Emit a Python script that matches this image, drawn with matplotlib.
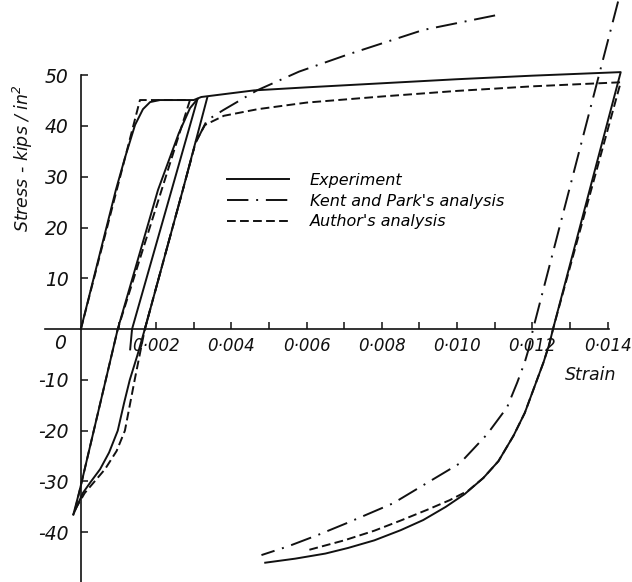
import matplotlib
matplotlib.use('Agg')
import matplotlib.pyplot as plt
from matplotlib.lines import Line2D

plt.rcParams['font.family'] = 'DejaVu Sans'
plt.rcParams['font.style'] = 'italic'
plt.rcParams['mathtext.default'] = 'it'

# ---- experiment (solid) ----
exp_main_strain = [0, 0.00093, 0.00117, 0.00144, 0.00165, 0.00184, 0.0021, 0.0030, 0.0032,
                   0.0046, 0.006, 0.008, 0.010, 0.012, 0.01435,
                   0.01255, 0.01245, 0.0123, 0.0121, 0.0118, 0.0115, 0.0111, 0.0107, 0.0102,
                   0.0097, 0.0091, 0.0085, 0.0078, 0.0071, 0.0065, 0.0057, 0.0049]
exp_main_stress = [0, 27.4, 33.7, 40.2, 43.3, 44.7, 45.1, 45.1, 45.7,
                   47.0, 47.6, 48.4, 49.2, 49.9, 50.6,
                   0, -3, -6.5, -10.5, -16.5, -21, -26, -29.3, -32.5,
                   -35, -37.6, -39.6, -41.6, -43.1, -44.2, -45.2, -46]

exp_unload1_strain = [0.0031, 0.00136, 0.00131]
exp_unload1_stress = [45.3, 0, -4]

exp_reload1_strain = [-0.0002, -0.00003, 0.00098, 0.00205, 0.0026, 0.0029, 0.0031]
exp_reload1_stress = [-36.5, -31.7, 0, 27.4, 38.5, 43.5, 45.3]

exp_loop2_strain = [0.00336, 0.00271, 0.0017, 0.0015, 0.0013, 0.00115, 0.00098, 0.00075,
                    0.00051, 0.00025, 0.00005, -0.0002]
exp_loop2_stress = [45.6, 27.4, 0, -5.2, -10, -14.5, -20, -24.3, -27.6, -30.2, -32.3, -36.5]

# ---- author's analysis (dashed) ----
au_first_strain = [0, 0.00157, 0.0029, 0.00098, -0.00003, -0.00015]
au_first_stress = [0, 45.1, 45.1, 0, -31.7, -35.5]

au_second_strain = [-0.00015, 0.0001, 0.00064, 0.00095, 0.00117, 0.00143, 0.0017, 0.00271, 0.00306,
                    0.0033, 0.0038, 0.0047, 0.006, 0.008, 0.010, 0.012, 0.01435,
                    0.01255, 0.01245, 0.0123, 0.0121, 0.0118, 0.0115, 0.0111, 0.0107, 0.0103,
                    0.0098, 0.0092, 0.0085, 0.0078, 0.0070, 0.0060]
au_second_stress = [-35.5, -32.3, -27.6, -24, -20, -10, 0, 27.4, 37,
                    40.2, 42, 43.3, 44.6, 45.8, 46.9, 47.8, 48.6,
                    0, -3, -6.5, -10.5, -16.5, -21, -26, -29.3, -31.8,
                    -33.7, -35.6, -37.7, -39.7, -41.6, -43.6]

# ---- Kent and Park's analysis (dash-dot) ----
kp_up_strain = [0.0017, 0.00271, 0.00304, 0.00335, 0.00378, 0.00468, 0.0058, 0.00707, 0.0091, 0.0111]
kp_up_stress = [0, 27.4, 36.5, 41.1, 43.1, 47.0, 50.7, 54.0, 58.9, 61.9]

kp_down_strain = [0.01428, 0.01202, 0.0119, 0.0118, 0.0116, 0.01133, 0.0108, 0.01008, 0.0092,
                  0.0083, 0.00707, 0.00628, 0.0055, 0.0048]
kp_down_stress = [64.5, 0, -4, -6.5, -10.5, -15.4, -20.7, -26.4, -30.3,
                  -34.3, -38.2, -40.6, -42.8, -44.5]

x_ticks = [0.001 * i for i in range(1, 15)]
x_labels = ['0·%03d' % i if i % 2 == 0 else '' for i in range(1, 15)]
y_ticks = [-40, -30, -20, -10, 10, 20, 30, 40, 50]
y_labels = [str(v) for v in y_ticks]

ink = '#111111'
lw = 1.4
solid = dict(color=ink, lw=lw, solid_joinstyle='round')
dashed = dict(color=ink, lw=lw, dashes=(4.5, 2.2))
dashdot = dict(color=ink, lw=lw, dashes=(11, 4, 1, 4))

fig = plt.figure(figsize=(6.32, 5.82), dpi=100)
ax = fig.add_axes([0, 0, 1, 1])
ax.set_xlim(-0.00215, 0.01465)
ax.set_ylim(-49.8, 64.8)

ax.plot(exp_main_strain, exp_main_stress, **solid)
ax.plot(exp_unload1_strain, exp_unload1_stress, **solid)
ax.plot(exp_reload1_strain, exp_reload1_stress, **solid)
ax.plot(exp_loop2_strain, exp_loop2_stress, **solid)

ax.plot(au_first_strain, au_first_stress, **dashed)
ax.plot(au_second_strain, au_second_stress, **dashed)

ax.plot(kp_up_strain, kp_up_stress, **dashdot)
ax.plot(kp_down_strain, kp_down_stress, **dashdot)

# axes through the origin
for s in ['top', 'right']:
    ax.spines[s].set_visible(False)
ax.spines['left'].set_position(('data', 0))
ax.spines['bottom'].set_position(('data', 0))
ax.spines['left'].set_bounds(-50, 50)
ax.spines['bottom'].set_bounds(-0.00095, 0.01405)
ax.spines['left'].set_linewidth(1.2)
ax.spines['bottom'].set_linewidth(1.2)
ax.spines['left'].set_color(ink)
ax.spines['bottom'].set_color(ink)

ax.set_xticks(x_ticks, x_labels, fontsize=12)
ax.set_yticks(y_ticks, y_labels, fontsize=13.5)
ax.tick_params(axis='x', direction='in', length=5, width=1.1, pad=6, colors=ink)
ax.tick_params(axis='y', direction='in', length=5, width=1.1, pad=9, colors=ink)

ax.text(-0.00056, -2.8, '0', fontsize=13.5, ha='center', va='center', color=ink)
ax.text(0.01354, -9.1, 'Strain', fontsize=12.5, ha='center', va='center', color=ink)
ax.text(-0.00154, 33.7, 'Stress - kips / in$^{2}$', fontsize=12.5, rotation=90,
        ha='center', va='center', color=ink)

handles = [Line2D([], [], **solid), Line2D([], [], **dashdot), Line2D([], [], **dashed)]
labels = ['Experiment', "Kent and Park's analysis", "Author's analysis"]
fig.legend(handles, labels, loc='upper left', bbox_to_anchor=(227 / 632, 1 - 173 / 582),
           frameon=False, fontsize=11.5, handlelength=3.9, handletextpad=1.3,
           labelspacing=0.35, borderpad=0, borderaxespad=0)

fig.savefig('out.png', dpi=100)
